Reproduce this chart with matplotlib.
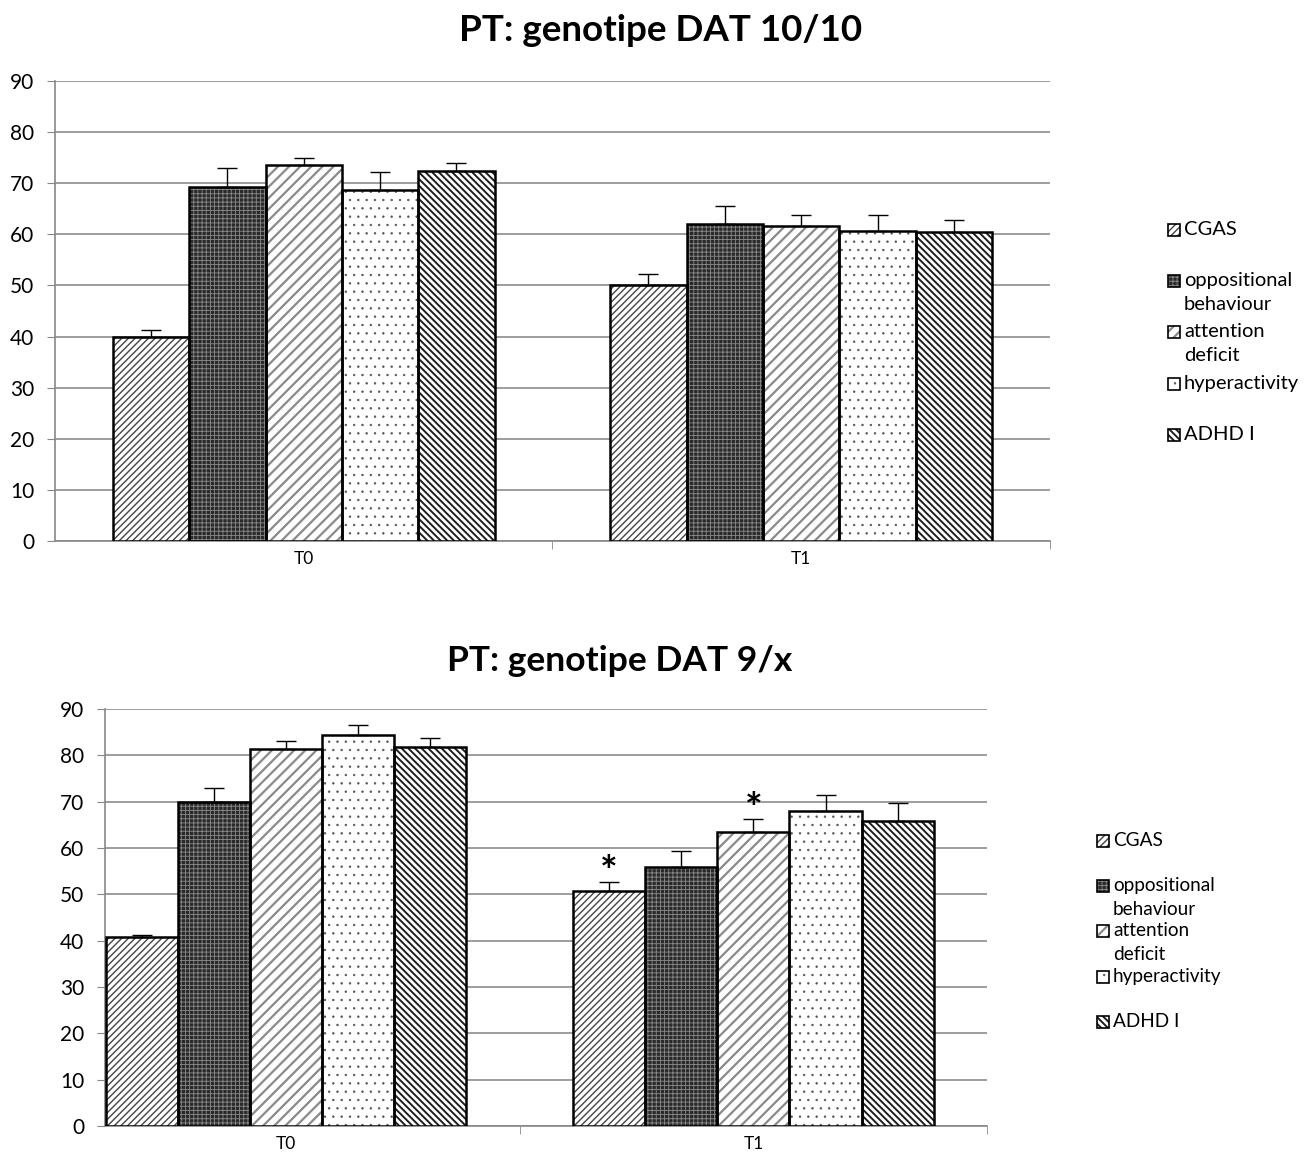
import numpy as np
import matplotlib.pyplot as plt
from matplotlib.patches import Rectangle

plt.rcParams['font.family'] = ['Lato', 'DejaVu Sans']

categories = ['T0', 'T1']
series = ['CGAS', 'oppositional\nbehaviour', 'attention\ndeficit', 'hyperactivity', 'ADHD I']

# DAT 10/10
top_values = [[40.0, 69.3, 73.6, 68.7, 72.4],
              [50.1, 62.0, 61.6, 60.7, 60.5]]
top_errors = [[1.2, 3.7, 1.4, 3.5, 1.6],
              [2.2, 3.6, 2.2, 3.1, 2.3]]

# DAT 9/x
bot_values = [[40.8, 69.9, 81.4, 84.4, 81.8],
              [50.7, 55.9, 63.5, 68.0, 65.8]]
bot_errors = [[0.4, 3.1, 1.7, 2.2, 1.9],
              [2.0, 3.5, 2.8, 3.4, 3.9]]
bot_stars = [(1, 0), (1, 2)]  # (category, series) with significance mark

# fill, hatch, hatch colour, hatch linewidth per series
styles = [
    ('white', '/////', '#444444', 1.0),
    ('#2a2a2a', '++++', '#8a8a8a', 0.6),
    ('white', '///', '#8a8a8a', 1.6),
    ('white', '..', '#555555', 0.5),
    ('white', '\\\\\\\\\\', '#1e1e1e', 1.4),
]


def hatched_bar(ax, x, h, width, i):
    face, hatch, hcol, hlw = styles[i]
    with plt.rc_context({'hatch.linewidth': hlw}):
        ax.bar(x, h, width, color=face, hatch=hatch, edgecolor=hcol,
               linewidth=0, zorder=3)
    ax.bar(x, h, width, fill=False, edgecolor='black', linewidth=1.8, zorder=4)


def draw_panel(ax, values, errors, width, xlim, stars=()):
    values = np.array(values)
    errors = np.array(errors)
    centers = np.arange(len(categories)) + 0.5
    for i in range(len(series)):
        x = centers + (i - 2) * width
        hatched_bar(ax, x, values[:, i], width, i)
        ax.errorbar(x, values[:, i], yerr=[np.zeros(len(x)), errors[:, i]],
                    fmt='none', ecolor='black', elinewidth=1, capsize=7,
                    capthick=1, zorder=5)
    for c, i in stars:
        x = centers[c] + (i - 2) * width
        ax.text(x, values[c, i] + errors[c, i] + 1.6, '*', ha='center',
                va='center', fontsize=30, fontweight='bold', zorder=6)
    ax.set_xlim(*xlim)
    ax.set_ylim(0, 90)
    ax.set_yticks(np.arange(0, 91, 10))
    ax.set_xticks(centers)
    ax.set_xticklabels(categories, fontsize=12.5)
    ax.set_xticks(np.arange(1, len(categories) + 1), minor=True)
    ax.tick_params(axis='x', which='major', length=0, pad=7)
    ax.tick_params(axis='x', which='minor', length=6, color='#888888')
    ax.tick_params(axis='y', length=6, color='#888888', labelsize=15, pad=9)
    ax.yaxis.grid(True, color='#8c8c8c', linewidth=1.2, zorder=0)
    for s in ['top', 'right']:
        ax.spines[s].set_visible(False)
    for s in ['left', 'bottom']:
        ax.spines[s].set_color('#888888')
        ax.spines[s].set_linewidth(1.2)


def draw_legend(fig, x0, y0, step, fontsize):
    W, H = 1315, 1167
    for i, name in enumerate(series):
        y = y0 - i * step
        face, hatch, hcol, hlw = styles[i]
        box = (x0, y - 6 / H)
        with plt.rc_context({'hatch.linewidth': hlw}):
            fig.patches.append(Rectangle(box, 12 / W, 12 / H,
                                         transform=fig.transFigure, facecolor=face,
                                         hatch=hatch, edgecolor=hcol, linewidth=0))
        fig.patches.append(Rectangle(box, 12 / W, 12 / H,
                                     transform=fig.transFigure, fill=False,
                                     edgecolor='black', linewidth=1.2))
        fig.text(x0 + 16 / W, y + 9 / H, name, fontsize=fontsize, va='top',
                 ha='left', linespacing=1.5)


fig = plt.figure(figsize=(13.15, 11.67), dpi=100)

ax1 = fig.add_axes([0.0418, 0.5364, 0.7566, 0.3942])
draw_panel(ax1, top_values, top_errors, 0.1535, (0, 2))
fig.text(0.502, 0.974, 'PT: genotipe DAT 10/10', ha='center', va='center',
         fontsize=26.5, fontweight='bold')
draw_legend(fig, 1168 / 1315, 1 - 230 / 1167, 51.2 / 1167, 14.5)

ax2 = fig.add_axes([0.0798, 0.0351, 0.6708, 0.3574])
draw_panel(ax2, bot_values, bot_errors, 0.1543, (0.112, 2.0), stars=bot_stars)
fig.text(0.4715, 0.434, 'PT: genotipe DAT 9/x', ha='center', va='center',
         fontsize=25.5, fontweight='bold')
draw_legend(fig, 1097 / 1315, 1 - 841 / 1167, 45.2 / 1167, 13.7)

fig.savefig('out.png', dpi=100)
